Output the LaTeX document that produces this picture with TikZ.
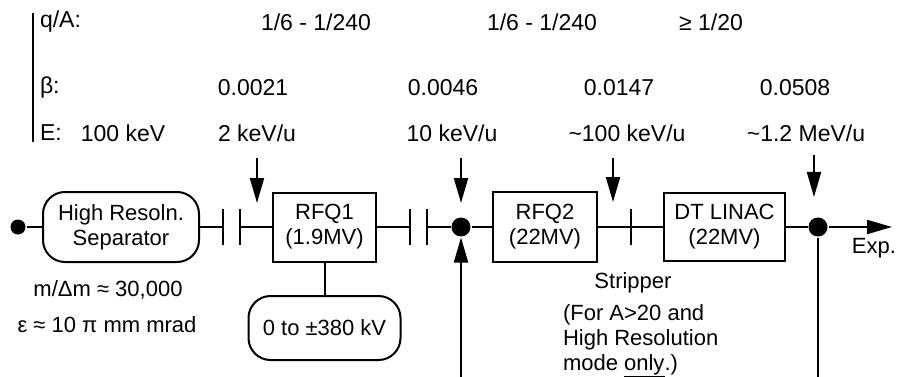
\documentclass[tikz,border=0pt]{standalone}
\usepackage{fontspec}
\setmainfont{Liberation Sans}
\usetikzlibrary{arrows.meta}
\begin{document}
\begin{tikzpicture}[x=1pt,y=-1pt, line width=2pt,
  txt/.style={inner sep=0pt, font=\fontsize{22}{25}\selectfont},
  toplbl/.style={inner sep=0pt, font=\fontsize{23}{26}\selectfont},
  blk/.style={draw, align=center, inner sep=0pt, font=\fontsize{22}{25}\selectfont},
  rblk/.style={blk, rounded corners=22pt},
  bdot/.style={circle, fill, inner sep=0pt, minimum size=19pt},
  arr/.style={-{Triangle[length=25pt,width=14pt]}},
  gapbar/.style={line width=2.2pt}]
\useasboundingbox (0,0) rectangle (897,377);

% header
\coordinate (hdtop) at (33,13);
\coordinate (hdbot) at (33,142);
\draw (hdtop) -- (hdbot);
\node[toplbl, anchor=west] (qa) at (39,22) {q/A:};
\node[toplbl, anchor=west] (be) at (39,88) {β:};
\node[toplbl, anchor=west] (en) at (39,133) {E:};
\node[toplbl] (qa1) at (316,22) {1/6 - 1/240};
\node[toplbl] (qa2) at (542,22) {1/6 - 1/240};
\node[toplbl] (qa3) at (711,22) {≥ 1/20};
\node[toplbl] (b1) at (253,88) {0.0021};
\node[toplbl] (b2) at (443,88) {0.0046};
\node[toplbl] (b3) at (619,88) {0.0147};
\node[toplbl] (b4) at (795,88) {0.0508};
\node[toplbl] (e0) at (123,133) {100 keV};
\node[toplbl] (e1) at (257,133) {2 keV/u};
\node[toplbl] (e2) at (452,133) {10 keV/u};
\node[toplbl] (e3) at (627,133) {\textasciitilde100 keV/u};
\node[toplbl] (e4) at (806,133) {\textasciitilde1.2 MeV/u};

% beamline
\node[circle, fill, inner sep=0pt, minimum size=15pt] (src) at (18,227) {};
\node[rblk, minimum width=156pt, minimum height=70pt] (sep) at (121,227) {High Resoln.\\Separator};
\node[blk, minimum width=103pt, minimum height=69pt] (rfq1) at (324.5,227) {RFQ1\\(1.9MV)};
\node[rblk, minimum width=152pt, minimum height=64pt] (hv) at (324.5,328) {0 to ±380 kV};
\node[bdot] (d1) at (461,227) {};
\node[blk, minimum width=104pt, minimum height=70pt] (rfq2) at (545,227) {RFQ2\\(22MV)};
\node[blk, minimum width=121pt, minimum height=68pt] (dtl) at (724.5,227) {DT LINAC\\(22MV)};
\node[bdot] (d2) at (818,227) {};
\coordinate (exp) at (892,227);

\coordinate (g1a) at (223,227);
\coordinate (g1b) at (240,227);
\coordinate (g2a) at (410,227);
\coordinate (g2b) at (427,227);
\coordinate (strip) at (631,227);
\foreach \g in {g1a,g1b,g2a,g2b,strip}
  \draw[gapbar] ([yshift=18pt]\g) -- ([yshift=-18pt]\g);

\draw (src) -- (sep);
\draw (sep) -- (g1a);
\draw (g1b) -- (rfq1);
\draw (rfq1) -- (g2a);
\draw (g2b) -- (d1);
\draw (d1) -- (rfq2);
\draw (rfq2) -- (dtl);
\draw (dtl) -- (d2);
\draw[arr] (d2) -- (exp);
\draw (rfq1.south) -- (hv.north);

% injection arrows
\coordinate (t1) at (257,158); \coordinate (h1) at (257,203);
\coordinate (t2) at (461,158); \coordinate (h2) at (461,203);
\coordinate (t3) at (613,158); \coordinate (h3) at (613,202);
\coordinate (t4) at (814,155); \coordinate (h4) at (814,197);
\draw[arr] (t1) -- (h1);
\draw[arr] (t2) -- (h2);
\draw[arr] (t3) -- (h3);
\draw[arr] (t4) -- (h4);
\coordinate (bot1) at (461,377);
\coordinate (bot2) at (818,377);
\draw[arr] (bot1) -- (d1);
\draw (d2) -- (bot2);

% annotations
\node[txt] (expl) at (874,248) {Exp.};
\node[txt] (mdm) at (108,290) {m/Δm ≈ 30,000};
\node[txt] (eps) at (107,325) {ε ≈ 10 π mm mrad};
\node[txt] (strl) at (633,283) {Stripper};
\node[txt, align=left, anchor=west] (note) at (562,341) {(For A>20 and\\High Resolution\\mode \underline{only}.)};
\end{tikzpicture}
\end{document}
